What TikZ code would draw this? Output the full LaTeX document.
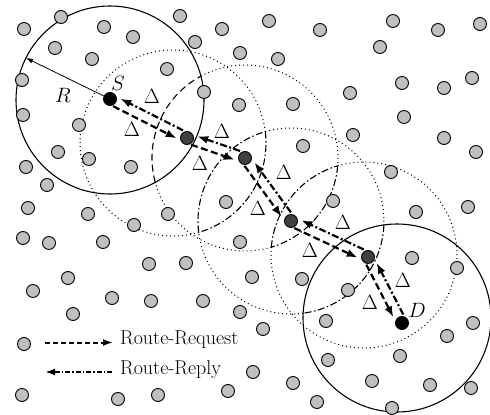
\documentclass[tikz,border=0pt]{standalone}
\usetikzlibrary{arrows.meta,calc}
\definecolor{hostgrey}{RGB}{192,192,192}
\definecolor{relaygrey}{RGB}{64,64,64}
% arc of a range circle: style, centre, radius, start angle, end angle
\newcommand\rangearc[5]{\draw[#1] (#2) ++(#4:#3) arc[start angle=#4, end angle=#5, radius=#3];}
% request / reply pair between two consecutive hops
\newcommand\hoppair[2]{%
  \draw[req] ($(#1)!5pt!-90:(#2)$) -- ($(#2)!5pt!90:(#1)$);
  \draw[rep] ($(#2)!5pt!-90:(#1)$) -- ($(#1)!5pt!90:(#2)$);}
\begin{document}
\begin{tikzpicture}[x=1pt,y=-1pt,
  font=\fontsize{20}{24}\selectfont,
  host/.style={circle,draw=black,line width=0.9pt,fill=hostgrey,minimum size=13pt,inner sep=0pt},
  relay/.style={host,fill=relaygrey},
  endpt/.style={host,fill=black},
  rangesolid/.style={line width=1.1pt},
  rangedot/.style={line width=1pt,dash pattern=on 1pt off 3pt},
  lensdash/.style={line width=1.1pt,dash pattern=on 7pt off 4pt},
  lensdashdot/.style={line width=1.1pt,dash pattern=on 7pt off 2.5pt on 1.5pt off 2.5pt},
  req/.style={line width=2.2pt,dash pattern=on 7pt off 3.5pt,shorten <=6pt,shorten >=9pt,
    -{Latex[length=11pt,width=8pt]}},
  rep/.style={line width=2.2pt,dash pattern=on 7pt off 2.5pt on 2pt off 2.5pt,shorten <=7pt,shorten >=9pt,
    -{Latex[length=11pt,width=8pt]}},
  legreq/.style={line width=2pt,dash pattern=on 5pt off 3pt,-{Latex[length=10pt,width=7pt]}},
  legrep/.style={line width=2pt,dash pattern=on 5pt off 2pt on 1.5pt off 2pt,-{Latex[length=10pt,width=7pt]}},
  lbl/.style={inner sep=0pt},
]
\useasboundingbox (0,0) rectangle (490,415);

% centres of the transmission ranges
\coordinate (c0) at (110,100);
\coordinate (c1) at (173,143);
\coordinate (c2) at (245,158);
\coordinate (c3) at (291,221);
\coordinate (c4) at (364,255);
\coordinate (c5) at (397,318);

% source and destination ranges
\draw[rangesolid] (c0) circle[radius=94];
\draw[rangesolid] (c5) circle[radius=94];

% relay ranges: dotted outside the lenses
\rangearc{rangedot}{c1}{93}{73.96}{352.97}
\rangearc{rangedot}{c2}{93}{73.55}{164.8}
\rangearc{rangedot}{c2}{93}{241.7}{364.82}
\rangearc{rangedot}{c3}{93}{82.51}{172.97}
\rangearc{rangedot}{c3}{93}{253.96}{362.41}
\rangearc{rangedot}{c4}{93}{253.55}{544.82}

% lens boundaries
\rangearc{lensdash}{c2}{93}{164.8}{241.7}
\rangearc{lensdashdot}{c1}{93}{-7.03}{73.96}
\rangearc{lensdashdot}{c3}{93}{172.97}{253.96}
\rangearc{lensdashdot}{c2}{93}{4.82}{73.55}
\rangearc{lensdashdot}{c4}{93}{184.82}{253.55}
\rangearc{lensdashdot}{c3}{93}{2.41}{82.51}

% other hosts of the network
\foreach \p [count=\i] in {(24,29),(61,17),(104,27),(133,37),(180,16),(195,42),(222,29),(240,53),
  (55,48),(92,59),(167,69),(22,80),(204,92),(239,105),(23,115),(79,125),(58,152),(89,159),
  (131,167),(26,167),(47,185),(28,208),(226,202),(269,21),(320,30),(393,21),(438,30),(480,24),
  (380,47),(278,59),(402,83),(444,88),(472,78),(350,93),(293,104),(404,117),(353,135),(444,138),
  (303,146),(476,152),(391,172),(333,201),(416,212),(468,207),(88,214),(134,225),(168,214),
  (23,238),(49,243),(103,242),(240,242),(149,264),(186,263),(68,278),(33,291),(112,298),
  (151,301),(203,301),(240,312),(73,314),(24,344),(22,395),(118,399),(158,395),(228,391),
  (412,258),(457,268),(252,277),(302,279),(348,290),(326,321),(263,329),(473,323),(447,336),
  (400,356),(328,360),(253,372),(293,383),(372,381),(430,385),(471,388),(317,402),(392,408)}
  \node[host] (h\i) at \p {};

% route nodes
\node[endpt] (S) at (110,99) {};
\node[relay] (n1) at (187,138) {};
\node[relay] (n2) at (245,158) {};
\node[relay] (n3) at (291,221) {};
\node[relay] (n4) at (368,257) {};
\node[endpt] (D) at (402,323) {};

% range radius
\coordinate (rim) at (26,58);
\draw[line width=0.8pt,-{Latex[length=7pt,width=5pt]}] (S) -- (rim);
\node[lbl] (lR) at (63,95) {$R$};
\node[lbl] (lS) at (118,83) {$S$};
\node[lbl] (lD) at (417,310) {$D$};

% request and reply along the route
\hoppair{S}{n1}
\hoppair{n1}{n2}
\hoppair{n2}{n3}
\hoppair{n3}{n4}
\hoppair{n4}{D}

% hop lengths
\foreach \p [count=\i] in {(152,96),(132,129),(222,131),(200,163),(284,172),(258,208),
  (343,222),(310,250),(403,280),(370,302)}
  \node[lbl] (hop\i) at \p {$\Delta$};

% legend
\coordinate (lq1) at (45,342.5);
\coordinate (lq2) at (113,342.5);
\coordinate (lp1) at (112,372);
\coordinate (lp2) at (45,372);
\draw[legreq] (lq1) -- (lq2);
\draw[legrep] (lp1) -- (lp2);
\node[lbl,anchor=base west] (tReq) at (120,344) {Route-Request};
\node[lbl,anchor=base west] (tRep) at (120,374) {Route-Reply};
\end{tikzpicture}
\end{document}
